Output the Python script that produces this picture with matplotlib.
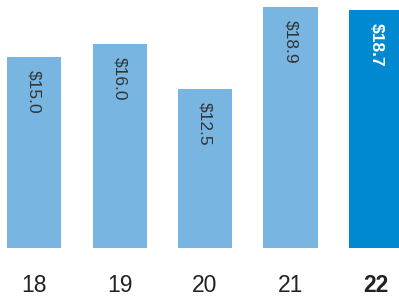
import numpy as np
import matplotlib.pyplot as plt

plt.rcParams['font.family'] = ['Liberation Sans', 'DejaVu Sans']

years = ['18', '19', '20', '21', '22']
values = [15.0, 16.0, 12.5, 18.9, 18.7]
labels = ['$15.0', '$16.0', '$12.5', '$18.9', '$18.7']

light = '#78B5E1'
dark = '#0088D1'
colors = [light, light, light, light, dark]

fig = plt.figure(figsize=(3.99, 2.99), dpi=100, facecolor='white')
ax = fig.add_axes([0, 51 / 299, 1, 248 / 299])

x = np.arange(len(years))
bars = ax.bar(x, values, width=0.632, color=colors)

# value labels, rotated, inside the top of each bar
for i, (b, lab) in enumerate(zip(bars, labels)):
    last = i == len(years) - 1
    ax.annotate(lab, (b.get_x() + b.get_width() / 2, b.get_height()),
                xytext=(0, -9.4), textcoords='offset points',
                rotation=-90, ha='center', va='top', fontsize=12.5,
                color='white' if last else '#333333',
                fontweight='bold' if last else 'normal')

ax.set_xlim(-0.398, 4.269)
ax.set_ylim(0, 19.48)
ax.set_xticks(x)
ax.set_xticklabels(years, fontsize=16.5, color='#222222')
ax.get_xticklabels()[-1].set_fontweight('bold')
ax.tick_params(axis='x', length=0, pad=19)
ax.set_yticks([])
for s in ax.spines.values():
    s.set_visible(False)

fig.savefig('out.png', dpi=100, facecolor='white')
